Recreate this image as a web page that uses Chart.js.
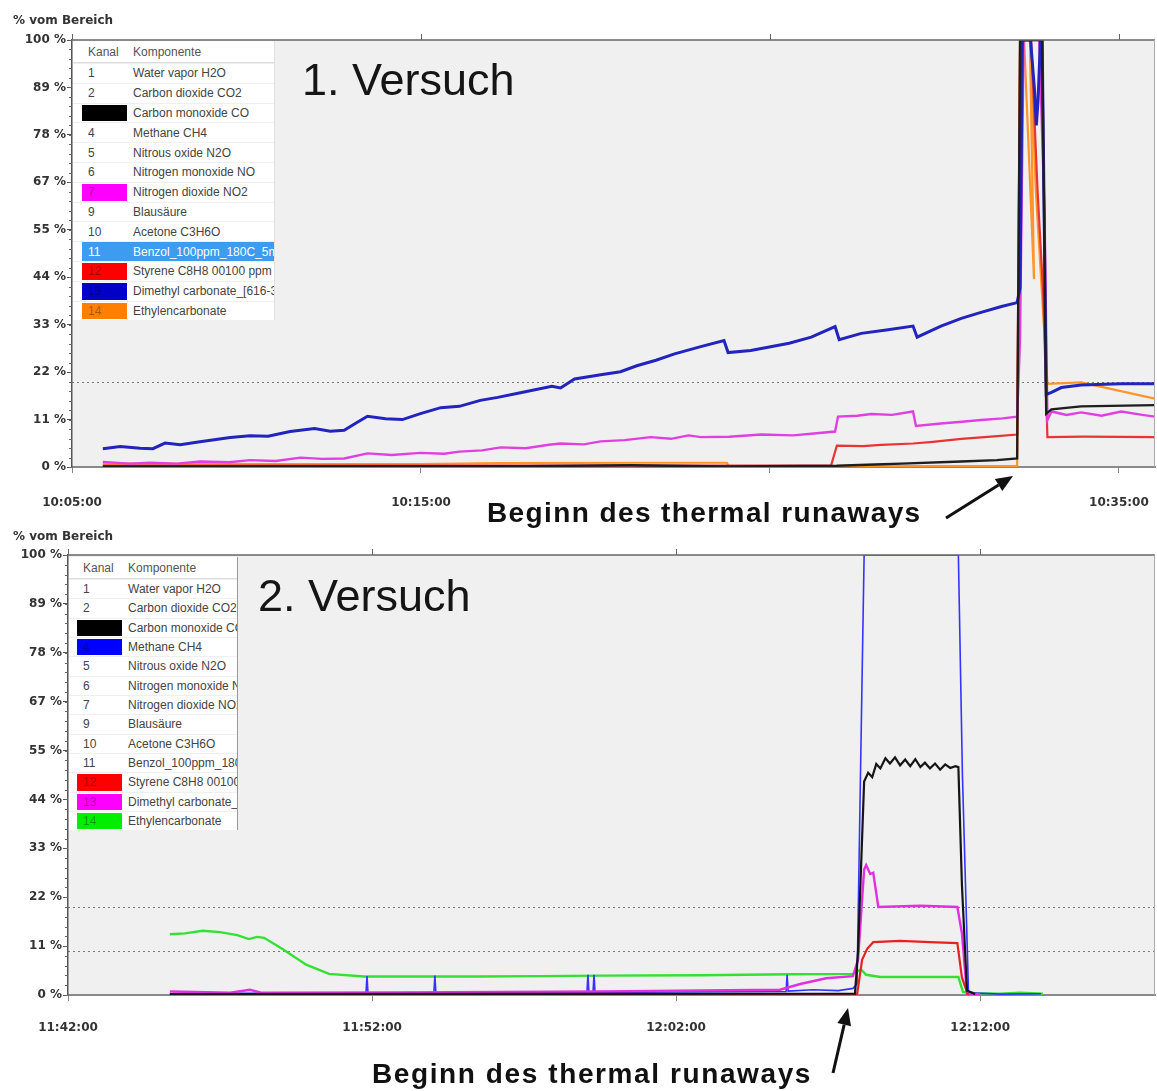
<!DOCTYPE html>
<html lang="de">
<head>
<meta charset="utf-8">
<title>Thermal runaway - Versuch 1 und 2</title>
<script src="https://cdn.jsdelivr.net/npm/chart.js@4.4.1/dist/chart.umd.min.js"></script>
<style>
  body { margin: 0; width: 1157px; height: 1091px; background: #fff; position: relative; overflow: hidden; font-family: "Liberation Sans", Arial, sans-serif; }
  canvas { position: absolute; left: 0; }
  #chartOben { top: 0; }
  #chartUnten { top: 530px; }
  .einheit { position: absolute; left: 13px; font: bold 12px "DejaVu Sans"; line-height: 14px; color: #333; }
  .titel { position: absolute; font-size: 45px; line-height: 45px; color: #151515; }
  .hinweis { position: absolute; font-weight: bold; font-size: 28px; line-height: 28px; color: #111; white-space: nowrap; }
  .legende { position: absolute; background: #fff; font-size: 12px; color: #444; overflow: hidden; }
  .legende .kopf { position: relative; height: 22px; border-bottom: 1px solid #ddd; box-sizing: border-box; color: #555; }
  .legende .zeile { position: relative; border-top: 1px solid #efefef; box-sizing: border-box; }
  .legende span { position: absolute; top: 50%; transform: translateY(-50%); white-space: nowrap; }
  .legende .farbe { position: absolute; top: 1px; bottom: 1px; width: 45px; }
  #pfeile { position: absolute; left: 0; top: 0; }
</style>
</head>
<body>
<canvas id="chartOben" width="1157" height="530"></canvas>
<canvas id="chartUnten" width="1157" height="561"></canvas>

<div class="einheit" style="top:13px">% vom Bereich</div>
<div class="einheit" style="top:529px">% vom Bereich</div>
<div class="legende" id="legendeOben"></div>
<div class="legende" id="legendeUnten"></div>
<div class="titel" style="left:302px;top:57px">1. Versuch</div>
<div class="titel" style="left:258px;top:573px">2. Versuch</div>
<div class="hinweis" style="left:487px;top:499px;letter-spacing:1.4px">Beginn des thermal runaways</div>
<div class="hinweis" style="left:372px;top:1060px;letter-spacing:1.6px">Beginn des thermal runaways</div>
<svg id="pfeile" width="1157" height="1091"></svg>

<script>
// ===============================
// DATEN - 1. Versuch
// ===============================
const obenXTicks = ["10:05:00", "10:15:00", "10:25:00", "10:35:00"];
const obenXLabels = ["10:05:00", "10:15:00", "", "10:35:00"];
const obenXMin = "10:05:00";
const obenXMax = "10:36:02";
const obenGrenzen = [20];

// Dimethyl carbonate (13)
const obenBlau = [
  ["10:05:53", 4.3], ["10:06:23", 4.8], ["10:06:57", 4.4], ["10:07:19", 4.3], ["10:07:40", 5.6], ["10:08:06", 5.2],
  ["10:08:40", 5.9], ["10:09:32", 6.9], ["10:10:06", 7.3], ["10:10:37", 7.2], ["10:11:15", 8.3], ["10:11:57", 9.0],
  ["10:12:24", 8.4], ["10:12:48", 8.6], ["10:13:07", 10.2], ["10:13:28", 11.9], ["10:13:59", 11.3], ["10:14:28", 11.1],
  ["10:14:59", 12.5], ["10:15:34", 13.9], ["10:16:06", 14.2], ["10:16:42", 15.6], ["10:17:12", 16.3], ["10:17:51", 17.4],
  ["10:18:45", 18.9], ["10:19:00", 18.5], ["10:19:24", 20.6], ["10:20:09", 21.6], ["10:20:43", 22.3], ["10:21:11", 23.7],
  ["10:21:44", 25.0], ["10:22:16", 26.5], ["10:23:01", 28.2], ["10:23:41", 29.6], ["10:23:48", 26.8], ["10:24:27", 27.3],
  ["10:25:33", 29.0], ["10:26:11", 30.4], ["10:26:52", 32.9], ["10:26:59", 29.8], ["10:27:37", 31.3], ["10:28:20", 32.1],
  ["10:29:06", 33.0], ["10:29:13", 30.4], ["10:29:54", 33.0], ["10:30:29", 34.8], ["10:31:00", 36.1], ["10:31:38", 37.6],
  ["10:32:05", 38.5], ["10:32:10", 42], ["10:32:14", 100], ["10:32:28", 100], ["10:32:35", 88], ["10:32:38", 80],
  ["10:32:41", 86], ["10:32:45", 100], ["10:32:48", 100], ["10:32:55", 17], ["10:33:04", 17.5], ["10:33:21", 18.6],
  ["10:33:55", 19.2], ["10:35:04", 19.5], ["10:36:02", 19.5]
];

// Nitrogen dioxide NO2 (7)
const obenMagenta = [
  ["10:05:53", 1.2], ["10:06:40", 0.8], ["10:07:14", 1.0], ["10:08:00", 0.8], ["10:08:40", 1.3], ["10:09:30", 1.1],
  ["10:10:06", 1.6], ["10:10:50", 1.4], ["10:11:33", 2.2], ["10:12:10", 1.9], ["10:12:48", 2.0], ["10:13:28", 3.2],
  ["10:14:10", 2.8], ["10:14:59", 3.3], ["10:15:40", 3.1], ["10:16:06", 3.6], ["10:16:45", 3.9], ["10:17:17", 4.6],
  ["10:18:00", 4.4], ["10:18:40", 5.2], ["10:19:00", 5.5], ["10:19:40", 5.3], ["10:20:09", 6.0], ["10:20:50", 6.3],
  ["10:21:35", 7.0], ["10:22:10", 6.6], ["10:22:40", 7.4], ["10:23:01", 7.0], ["10:23:50", 7.1], ["10:24:45", 7.6],
  ["10:25:40", 7.4], ["10:26:20", 7.9], ["10:26:52", 8.3], ["10:26:57", 11.8], ["10:27:30", 12.0], ["10:27:54", 12.4],
  ["10:28:30", 12.2], ["10:29:06", 13.0], ["10:29:11", 9.6], ["10:29:54", 10.2], ["10:30:30", 10.6], ["10:31:03", 11.0],
  ["10:31:40", 11.4], ["10:32:05", 11.8], ["10:32:10", 30], ["10:32:16", 100], ["10:32:43", 100], ["10:32:52", 60],
  ["10:32:57", 11], ["10:33:04", 13], ["10:33:30", 12.2], ["10:33:55", 12.8], ["10:34:30", 12.0], ["10:35:04", 13.0],
  ["10:35:40", 12.2], ["10:36:02", 11.8]
];

// Styrene C8H8 (12)
const obenRot = [
  ["10:05:53", 0.3], ["10:15:00", 0.3], ["10:26:45", 0.3], ["10:26:55", 5.0], ["10:27:40", 4.9], ["10:28:11", 5.2],
  ["10:29:06", 5.5], ["10:29:40", 5.9], ["10:30:29", 6.6], ["10:31:20", 7.1], ["10:32:05", 7.6], ["10:32:10", 100],
  ["10:32:29", 100], ["10:32:40", 65], ["10:32:50", 40], ["10:32:57", 7], ["10:34:00", 7.1], ["10:36:02", 7]
];

// Ethylencarbonate (14)
const obenOrange = [
  ["10:05:53", 0.8], ["10:11:33", 0.7], ["10:14:59", 0.7], ["10:17:17", 0.9], ["10:21:18", 1.0], ["10:23:46", 1.0],
  ["10:23:49", 0.2], ["10:32:05", 0.2], ["10:32:10", 100], ["10:32:17", 100], ["10:32:34", 44], ["10:32:27", 100],
  ["10:32:37", 65], ["10:32:57", 19.5], ["10:33:55", 19.8], ["10:36:02", 16.0]
];

// Carbon monoxide CO (3)
const obenSchwarz = [
  ["10:05:53", 0.1], ["10:18:00", 0.2], ["10:21:00", 0.4], ["10:23:46", 0.1], ["10:26:55", 0.3], ["10:28:00", 0.6],
  ["10:28:46", 0.8], ["10:30:29", 1.3], ["10:31:30", 1.6], ["10:32:05", 2.0], ["10:32:10", 100], ["10:32:48", 100],
  ["10:32:55", 12.5], ["10:33:04", 13.5], ["10:33:55", 14.2], ["10:36:02", 14.5]
];

// ===============================
// DATEN - 2. Versuch
// ===============================
const untenXTicks = ["11:42:00", "11:52:00", "12:02:00", "12:12:00"];
const untenXLabels = ["11:42:00", "11:52:00", "12:02:00", "12:12:00"];
const untenXMin = "11:42:00";
const untenXMax = "12:17:45";
const untenGrenzen = [20, 10];

// Ethylencarbonate (14)
const untenGruen = [
  ["11:45:21", 13.8], ["11:45:51", 14.0], ["11:46:26", 14.6], ["11:47:00", 14.3], ["11:47:34", 13.6], ["11:47:57", 12.7],
  ["11:48:13", 13.2], ["11:48:27", 13.0], ["11:49:04", 10.4], ["11:49:50", 6.9], ["11:50:35", 4.8], ["11:51:44", 4.2],
  ["11:53:35", 4.2], ["11:55:30", 4.2], ["11:57:32", 4.3], ["11:59:30", 4.4], ["12:02:47", 4.5], ["12:05:45", 4.7],
  ["12:07:49", 4.8], ["12:08:05", 5.8], ["12:08:15", 4.6], ["12:08:43", 4.1], ["12:11:17", 4.1], ["12:11:26", 0.7],
  ["12:11:50", 0.4], ["12:12:39", 0.3], ["12:13:19", 0.5], ["12:14:04", 0.3]
];

// Methane CH4 (4)
const untenBlau = [
  ["11:45:21", 0.3], ["11:48:00", 0.4], ["11:51:48", 0.4], ["11:51:50", 4.3], ["11:51:52", 0.4], ["11:54:02", 0.5],
  ["11:54:04", 4.4], ["11:54:06", 0.5], ["11:57:00", 0.6], ["11:59:04", 0.6], ["11:59:06", 4.6], ["11:59:08", 0.6],
  ["11:59:16", 0.6], ["11:59:18", 4.6], ["11:59:20", 0.6], ["12:02:00", 0.7], ["12:05:37", 0.8], ["12:05:39", 4.6],
  ["12:05:41", 0.9], ["12:06:30", 1.2], ["12:07:20", 1.0], ["12:07:49", 1.5], ["12:07:57", 2.5], ["12:08:11", 100],
  ["12:11:17", 100], ["12:11:25", 50], ["12:11:37", 0.5], ["12:12:40", 0.2], ["12:14:00", 0.3]
];

// Carbon monoxide CO (3)
const untenSchwarz = [
  ["11:45:21", 0.2], ["12:07:53", 0.3], ["12:07:59", 10], ["12:08:11", 48.5], ["12:08:19", 50.5], ["12:08:27", 49.5],
  ["12:08:35", 52.5], ["12:08:43", 51.5], ["12:08:53", 53.8], ["12:09:02", 52.6], ["12:09:12", 54.0], ["12:09:22", 52.2],
  ["12:09:32", 53.5], ["12:09:42", 52.0], ["12:09:52", 53.6], ["12:10:02", 51.8], ["12:10:11", 52.8], ["12:10:21", 51.5],
  ["12:10:31", 52.6], ["12:10:41", 51.2], ["12:10:51", 52.4], ["12:11:01", 51.6], ["12:11:11", 52.0], ["12:11:17", 51.8],
  ["12:11:24", 25], ["12:11:34", 1], ["12:11:50", 0.2]
];

// Styrene C8H8 (12)
const untenRot = [
  ["11:45:21", 0], ["12:07:57", 0], ["12:08:07", 8], ["12:08:17", 10.5], ["12:08:29", 12.0], ["12:09:22", 12.3],
  ["12:10:21", 12.0], ["12:11:15", 11.8], ["12:11:24", 4], ["12:11:36", 0]
];

// Dimethyl carbonate (13)
const untenMagenta = [
  ["11:45:21", 0.8], ["11:47:20", 0.5], ["11:47:59", 1.2], ["11:48:23", 0.5], ["11:52:55", 0.6], ["11:59:30", 0.8],
  ["12:05:25", 1.2], ["12:06:05", 2.5], ["12:06:56", 3.8], ["12:07:49", 4.3], ["12:07:59", 8], ["12:08:11", 28.5],
  ["12:08:15", 29.5], ["12:08:23", 27.5], ["12:08:29", 27.8], ["12:08:39", 20.0], ["12:10:02", 20.3], ["12:11:15", 20.0],
  ["12:11:24", 14], ["12:11:34", 0.3], ["12:12:00", 0.2]
];

// Y-Achse (beide Diagramme)
const yTickLabels = ["0 %", "11 %", "22 %", "33 %", "44 %", "55 %", "67 %", "78 %", "89 %", "100 %"];

// Legenden: Kanal, Komponente, Farbe
const legendeObenZeilen = [
  ["1", "Water vapor H2O", null], ["2", "Carbon dioxide CO2", null], ["3", "Carbon monoxide CO", "#000"],
  ["4", "Methane CH4", null], ["5", "Nitrous oxide N2O", null], ["6", "Nitrogen monoxide NO", null],
  ["7", "Nitrogen dioxide NO2", "#ff00ff"], ["9", "Blausäure", null], ["10", "Acetone C3H6O", null],
  ["11", "Benzol_100ppm_180C_5min", null], ["12", "Styrene C8H8 00100 ppm", "#ff0000"],
  ["13", "Dimethyl carbonate_[616-38-6]", "#0000c8"], ["14", "Ethylencarbonate", "#ff8000"]
];
const legendeUntenZeilen = [
  ["1", "Water vapor H2O", null], ["2", "Carbon dioxide CO2", null], ["3", "Carbon monoxide CO", "#000"],
  ["4", "Methane CH4", "#0000ff"], ["5", "Nitrous oxide N2O", null], ["6", "Nitrogen monoxide NO", null],
  ["7", "Nitrogen dioxide NO2", null], ["9", "Blausäure", null], ["10", "Acetone C3H6O", null],
  ["11", "Benzol_100ppm_180C_5min", null], ["12", "Styrene C8H8 00100 ppm", "#ff0000"],
  ["13", "Dimethyl carbonate_[616-38-6]", "#ff00ff"], ["14", "Ethylencarbonate", "#00ee00"]
];

// ===============================
// HILFSFUNKTIONEN
// ===============================
const toSec = t => { const [h, m, s] = t.split(":").map(Number); return h * 3600 + m * 60 + s; };
const pts = arr => arr.map(([t, v]) => ({ x: toSec(t), y: v }));

// Hintergrund, Grenzlinien, Rahmen, Nebenstriche
const rahmen = {
  id: "rahmen",
  beforeDraw(chart, args, opts) {
    const { ctx, chartArea: a, scales: { y } } = chart;
    ctx.save();
    ctx.fillStyle = "#f0f0f0";
    ctx.fillRect(a.left, a.top, a.right - a.left, a.bottom - a.top);
    ctx.strokeStyle = "#7a7a7a";
    ctx.lineWidth = 1;
    ctx.setLineDash([2, 3]);
    for (const v of opts.grenzen) {
      const py = Math.round(y.getPixelForValue(v)) + 0.5;
      ctx.beginPath(); ctx.moveTo(a.left, py); ctx.lineTo(a.right, py); ctx.stroke();
    }
    ctx.restore();
  },
  afterDraw(chart) {
    const { ctx, chartArea: a, scales: { x, y } } = chart;
    ctx.save();
    ctx.strokeStyle = "#666";
    ctx.lineWidth = 1.5;
    ctx.beginPath(); ctx.moveTo(a.left, a.top); ctx.lineTo(a.right, a.top); ctx.stroke();
    ctx.lineWidth = 1;
    ctx.beginPath();
    for (const t of x.ticks) {
      const px = Math.round(x.getPixelForValue(t.value)) + 0.5;
      ctx.moveTo(px, a.top); ctx.lineTo(px, a.top - 6);
    }
    for (let i = 0; i <= 45; i++) {
      const py = Math.round(y.getPixelForValue(i * 100 / 45)) + 0.5;
      ctx.moveTo(a.left, py); ctx.lineTo(a.left - 3, py);
    }
    ctx.stroke();
    ctx.strokeStyle = "#aaa";
    ctx.beginPath(); ctx.moveTo(a.right - 0.5, a.top); ctx.lineTo(a.right - 0.5, a.bottom); ctx.stroke();
    ctx.restore();
  }
};

const achsenFont = { family: "DejaVu Sans", size: 12, weight: "bold" };

function diagramm(id, cfg) {
  return new Chart(document.getElementById(id), {
    type: "line",
    data: {
      datasets: cfg.reihen.map(([daten, farbe, breite]) => ({
        data: pts(daten), borderColor: farbe, borderWidth: breite,
        pointRadius: 0, tension: 0, fill: false
      }))
    },
    options: {
      responsive: false,
      animation: false,
      devicePixelRatio: 1,
      layout: { padding: { top: cfg.oben, right: 2, left: 0, bottom: 0 } },
      plugins: { legend: { display: false }, tooltip: { enabled: false }, rahmen: { grenzen: cfg.grenzen } },
      scales: {
        x: {
          type: "linear",
          min: toSec(cfg.xMin),
          max: toSec(cfg.xMax),
          afterBuildTicks: s => { s.ticks = cfg.xTicks.map(t => ({ value: toSec(t) })); },
          afterFit: s => { s.height = cfg.xHoehe; s.paddingLeft = 0; s.paddingRight = 0; },
          ticks: { autoSkip: false, maxRotation: 0, padding: cfg.xPad, color: "#333", font: achsenFont,
                   callback: (v, i) => cfg.xLabels[i] },
          grid: { drawOnChartArea: false, tickLength: 6, color: "#888" },
          border: { color: "#8a8a8a", width: 2 }
        },
        y: {
          min: 0,
          max: 100,
          afterBuildTicks: s => { s.ticks = yTickLabels.map((_, i) => ({ value: i * 100 / 9 })); },
          afterFit: s => { s.width = cfg.yBreite; },
          ticks: { padding: 1, color: "#333", font: achsenFont, callback: (v, i) => yTickLabels[i] },
          grid: { drawOnChartArea: false, tickLength: 5, color: "#555" },
          border: { color: "#555", width: 1.5 }
        }
      }
    },
    plugins: [rahmen]
  });
}

diagramm("chartOben", {
  oben: 40, yBreite: 72, xHoehe: 63, xPad: 23,
  xMin: obenXMin, xMax: obenXMax, xTicks: obenXTicks, xLabels: obenXLabels, grenzen: obenGrenzen,
  reihen: [
    [obenSchwarz, "#1e1e1e", 2.4],
    [obenBlau, "#2323bd", 3],
    [obenMagenta, "#e040e0", 2.4],
    [obenRot, "#e83434", 2.2],
    [obenOrange, "#ff9428", 2.2]
  ]
});

diagramm("chartUnten", {
  oben: 25, yBreite: 68, xHoehe: 96, xPad: 20,
  xMin: untenXMin, xMax: untenXMax, xTicks: untenXTicks, xLabels: untenXLabels, grenzen: untenGrenzen,
  reihen: [
    [untenSchwarz, "#151515", 2.2],
    [untenRot, "#e82222", 2.2],
    [untenMagenta, "#e030e0", 2.4],
    [untenBlau, "#3434ff", 1.6],
    [untenGruen, "#33e033", 2.4]
  ]
});

// ===============================
// LEGENDEN
// ===============================
function legende(id, zeilen, markiert, cfg) {
  const box = document.getElementById(id);
  box.style.left = cfg.left + "px";
  box.style.top = cfg.top + "px";
  box.style.width = cfg.width + "px";
  box.style.borderRight = cfg.rand;
  let html = `<div class="kopf"><span style="left:${cfg.nr}px">Kanal</span><span style="left:${cfg.name}px">Komponente</span></div>`;
  for (const [nr, name, farbe] of zeilen) {
    const sel = nr === markiert;
    const bg = sel ? `background:linear-gradient(to right, transparent ${cfg.feld}px, #3d9bf0 ${cfg.feld}px);color:#fff;` : "";
    html += `<div class="zeile" style="height:${cfg.h}px;${bg}">` +
      (farbe ? `<div class="farbe" style="left:${cfg.feld}px;background:${farbe}"></div>` : "") +
      `<span style="left:${cfg.nr}px;${farbe ? "color:rgba(0,0,0,.35)" : ""}">${nr}</span>` +
      `<span style="left:${cfg.name}px">${name}</span></div>`;
  }
  box.innerHTML = html;
}

legende("legendeOben", legendeObenZeilen, "11",
  { left: 73, top: 41, width: 201, h: 19.8, feld: 9, nr: 15, name: 60, rand: "1px solid #e0e0e0" });
legende("legendeUnten", legendeUntenZeilen, null,
  { left: 69, top: 557, width: 168, h: 19.33, feld: 8, nr: 14, name: 59, rand: "1px solid #999" });

// ===============================
// PFEILE
// ===============================
function pfeil([x1, y1], [x2, y2]) {
  const w = Math.atan2(y2 - y1, x2 - x1), l = 17, b = 7;
  const bx = x2 - l * Math.cos(w), by = y2 - l * Math.sin(w);
  const px = -Math.sin(w) * b, py = Math.cos(w) * b;
  return `<line x1="${x1}" y1="${y1}" x2="${bx}" y2="${by}" stroke="#111" stroke-width="3"/>` +
    `<polygon points="${x2},${y2} ${bx + px},${by + py} ${bx - px},${by - py}" fill="#111"/>`;
}
document.getElementById("pfeile").innerHTML =
  pfeil([946, 518], [1013, 476]) + pfeil([833, 1073], [848, 1008]);
</script>
</body>
</html>
